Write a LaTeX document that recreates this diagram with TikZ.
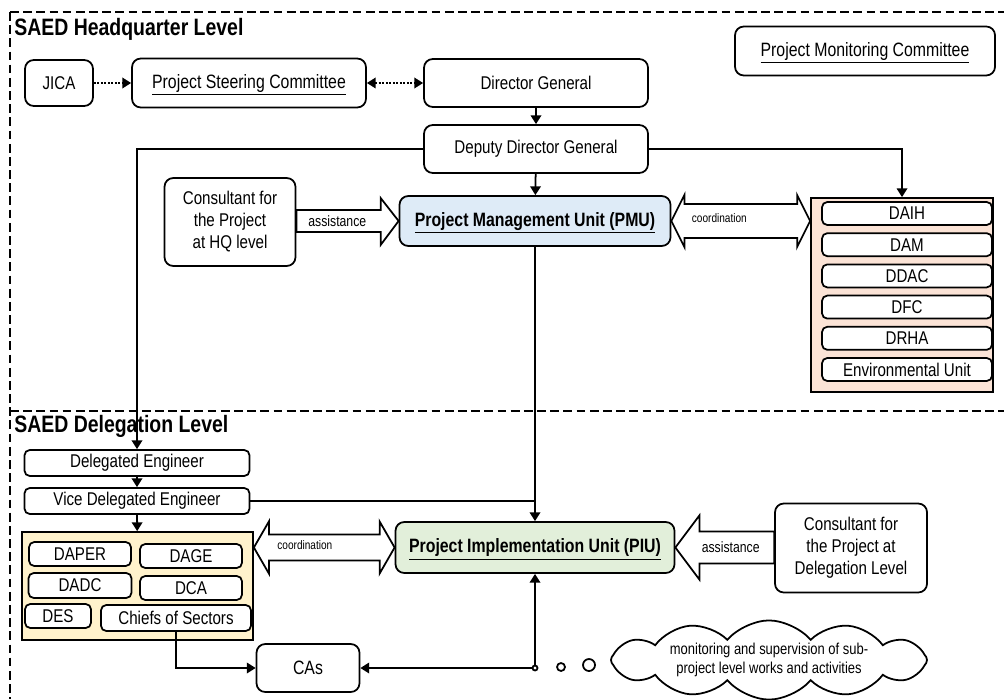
\documentclass[tikz,border=0pt]{standalone}
\usepackage{fontspec}
\setmainfont{Liberation Sans}[FakeStretch=0.82]
\usepackage{tikz}
\usetikzlibrary{calc}
\usetikzlibrary{arrows.meta}
\usetikzlibrary{shapes.symbols}
\definecolor{pmublue}{HTML}{DEEBF7}
\definecolor{piugreen}{HTML}{E2EFDA}
\definecolor{deptpink}{HTML}{FBE3D6}
\definecolor{delcream}{HTML}{FFF2CC}
\newcommand{\px}{0.02cm}
\tikzset{box/.style 2 args={draw,fill=white,rounded corners=5pt,line width=1pt,align=center,inner sep=1pt,minimum width=#1*\px,minimum height=#2*\px,font=\fontsize{10.5}{12.5}\selectfont}}
\tikzset{sbox/.style 2 args={box={#1}{#2},rounded corners=3pt}}
\tikzset{uline/.style={text height=8pt,text depth=2.3pt}}
\tikzset{frame/.style={line width=1.5pt,dash pattern=on 5pt off 2.5pt}}
\tikzset{hollow/.style={draw,line width=1pt,fill=white,line join=miter}}
\tikzset{link/.style={line width=1pt}}
\tikzset{tag/.style={inner sep=0pt,font=\fontsize{8.5}{10}\selectfont}}

\begin{document}
\begin{tikzpicture}[x=0.02cm,y=-0.02cm,>={Triangle[length=5pt,width=6pt]}]
\useasboundingbox (0,0) rectangle (1006,699);
\draw[frame] (10,12) -- (1004,12);
\draw[frame] (10,12) -- (10,699);
\draw[frame] (10,411) -- (1004,411);
\node[anchor=west,inner sep=0pt,font=\bfseries\fontsize{13.5}{15}\selectfont] (hqtitle) at (14,29) {SAED Headquarter Level};
\node[anchor=west,inner sep=0pt,font=\bfseries\fontsize{13.5}{15}\selectfont] (deltitle) at (14,426) {SAED Delegation Level};

% headquarter level
\node[box={68}{46}] (jica) at (59,83) {JICA};
\node[box={234}{49},uline,font=\fontsize{11}{13}\selectfont] (psc) at (249,83) {\underline{Project Steering Committee}};
\node[box={224}{48}] (dg) at (536,83) {Director General};
\node[box={224}{48}] (ddg) at (536,149) {Deputy Director General};
\node[box={260}{49},uline,font=\fontsize{11}{13}\selectfont] (pmc) at (865,51) {\underline{Project Monitoring Committee}};
\node[box={131}{88}] (chq) at (230,222) {Consultant for\\the Project\\at HQ level};
\node[box={271}{50},uline,fill=pmublue,font=\bfseries\fontsize{11}{13}\selectfont] (pmu) at (535,221) {\underline{Project Management Unit (PMU)}};
\node[draw,line width=1pt,fill=deptpink,minimum width=182*\px,minimum height=194*\px] (dept) at (902,295) {};
\foreach \d [count=\i] in {DAIH,DAM,DDAC,DFC,DRHA,Environmental Unit}
  \node[sbox={170}{23}] (d\i) at (907,{213.5+31.2*(\i-1)}) {\d};

% delegation level
\node[sbox={225}{26}] (de) at (137,463) {Delegated Engineer};
\node[sbox={225}{26}] (vde) at (137,501) {Vice Delegated Engineer};
\node[draw,line width=1pt,fill=delcream,minimum width=231*\px,minimum height=108*\px] (delbox) at (137.5,586) {};
\node[sbox={102}{24}] (daper) at (80,554) {DAPER};
\node[sbox={102}{24}] (dage) at (191,556) {DAGE};
\node[sbox={103}{25}] (dadc) at (80,585.5) {DADC};
\node[sbox={102}{24}] (dca) at (191,588) {DCA};
\node[sbox={66}{24}] (des) at (58,616) {DES};
\node[sbox={150}{26}] (cos) at (176,618) {Chiefs of Sectors};
\node[box={279}{51},uline,fill=piugreen,font=\bfseries\fontsize{11}{13}\selectfont] (piu) at (535,547.5) {\underline{Project Implementation Unit (PIU)}};
\node[box={152}{89}] (cdl) at (851,548) {Consultant for\\the Project at\\Delegation Level};
\node[box={103}{48},font=\fontsize{11}{13}\selectfont] (cas) at (308,668) {CAs};
\node[circle,draw,line width=1pt,fill=white,inner sep=0pt,minimum size=5*\px] (jn) at (piu.south |- cas.east) {};
\node[circle,draw,line width=1pt,inner sep=0pt,minimum size=8*\px] (bub1) at (561,667) {};
\node[circle,draw,line width=1pt,inner sep=0pt,minimum size=12*\px] (bub2) at (589,665) {};
\node[cloud,draw,line width=1pt,cloud puffs=12,cloud puff arc=100,cloud ignores aspect,minimum width=316*\px,minimum height=75*\px,align=center,inner sep=0pt,font=\fontsize{9}{10.5}\selectfont] (cloud) at (769,660) {monitoring and supervision of sub-\\project level works and activities};

% connectors
\draw[link,->,dash pattern=on 1pt off 1pt] (jica) -- (psc);
\draw[link,<->,dash pattern=on 1pt off 1pt] (psc) -- (dg);
\draw[link,->] (dg) -- (ddg);
\draw[link,->] (ddg) -- (pmu);
\draw[link,->] (ddg.east) -| (dept.north);
\draw[link,->] (ddg.west) -| (de.north);
\draw[link,->] (pmu) -- (piu);
\draw[link,->] (de) -- (vde);
\draw[link,->] (vde) -- (delbox);
\draw[link] (vde.east) -- (vde.east -| piu.north);
\draw[link,->] (cos.south) |- (cas.west);
\draw[link,->] (jn) -- (cas.east);
\draw[link,->] (jn) -- (piu.south);

% hollow arrows
\draw[hollow] ($(chq.east |- pmu.west)+(0,-11)$) -- ($(pmu.west)+(-18,-11)$) -- ++(0,-12) -- (pmu.west) -- ($(pmu.west)+(-18,24)$) -- ++(0,-13) -- ($(chq.east |- pmu.west)+(0,11)$) -- cycle;
\node[tag] (asshq) at ($(chq.east |- pmu.west)!0.4!(pmu.west)$) {assistance};
\coordinate (hqr) at (dept.west |- pmu.east);
\draw[hollow] (pmu.east) -- ++(13,-26) -- ++(0,9) -- ($(hqr)+(-13,-17)$) -- ++(0,-9) -- (hqr) -- ++(-13,26) -- ++(0,-9) -- ($(pmu.east)+(13,17)$) -- ++(0,9) -- cycle;
\node[tag,font=\fontsize{7}{8}\selectfont] (coohq) at ($(pmu.east)+(48,-3)$) {coordination};
\coordinate (dell) at (delbox.east |- piu.west);
\draw[hollow] (dell) -- ++(15,-26) -- ++(0,13) -- ($(piu.west)+(-15,-13)$) -- ++(0,-13) -- (piu.west) -- ++(-15,26) -- ++(0,-13) -- ($(dell)+(15,13)$) -- ++(0,13) -- cycle;
\node[tag,font=\fontsize{7}{8}\selectfont] (coodel) at ($(dell)+(51,-2)$) {coordination};
\coordinate (cdll) at (cdl.west |- piu.east);
\draw[hollow] (piu.east) -- ++(24,-32) -- ++(0,16) -- ($(cdll)+(0,-16)$) -- ($(cdll)+(0,16)$) -- ($(piu.east)+(24,16)$) -- ++(0,16) -- cycle;
\node[tag] (assdel) at ($(piu.east)!0.56!(cdll)$) {assistance};
\end{tikzpicture}
\end{document}
